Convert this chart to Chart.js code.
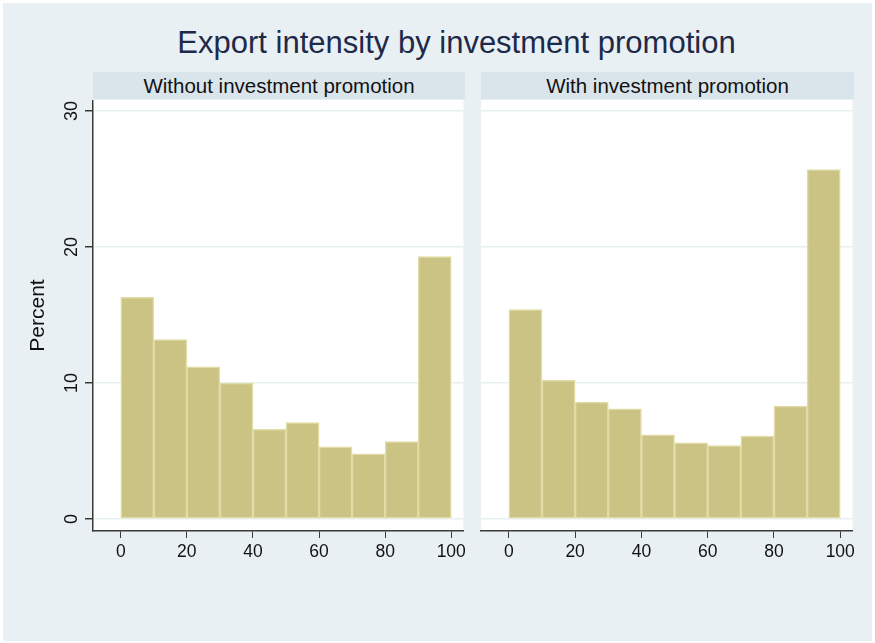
<!DOCTYPE html>
<html>
<head>
<meta charset="utf-8">
<title>Export intensity by investment promotion</title>
<script src="https://cdn.jsdelivr.net/npm/chart.js@4.4.1/dist/chart.umd.min.js"></script>
<style>
	html, body { margin: 0; padding: 0; background: #ffffff; }
	body { width: 875px; height: 643px; position: relative; overflow: hidden; font-family: "Liberation Sans", Arial, sans-serif; }
	#frame { position: absolute; left: 3px; top: 3px; width: 869px; height: 638px; background: #e9f0f3; }
	#title { position: absolute; left: 0; top: 23px; width: 913px; height: 40px; line-height: 40px; text-align: center; font-size: 31px; color: #1e2a4a; }
	.strip { position: absolute; top: 72px; height: 27px; line-height: 27px; text-align: center; font-size: 20.5px; color: #111111; background: #d9e5eb; }
	#strip-left { left: 93px; width: 372px; }
	#strip-right { left: 481px; width: 373px; }
	canvas { position: absolute; top: 100px; }
	#hist-left { left: 0; }
	#hist-right { left: 476px; }
</style>
</head>
<body>
<div id="frame"></div>
<div id="title">Export intensity by investment promotion</div>
<div class="strip" id="strip-left">Without investment promotion</div>
<div class="strip" id="strip-right">With investment promotion</div>
<canvas id="hist-left" width="470" height="480"></canvas>
<canvas id="hist-right" width="383" height="480"></canvas>
<script>
// bins of export intensity (lower edge, width 10)
const binStarts = [0, 10, 20, 30, 40, 50, 60, 70, 80, 90];
const binWidth = 10;
const withoutPromotion = [16.3, 13.2, 11.2, 10.0, 6.6, 7.1, 5.3, 4.8, 5.7, 19.3];
const withPromotion = [15.4, 10.2, 8.6, 8.1, 6.2, 5.6, 5.4, 6.1, 8.3, 25.7];
const xTicks = [0, 20, 40, 60, 80, 100];
const yTicks = [0, 10, 20, 30];
const panelTitles = ["Without investment promotion", "With investment promotion"];

const FONT = "'Liberation Sans', Arial, sans-serif";
const BAR_FILL = "#cbc383";
const BAR_EDGE = "#e1dca6";
const GRID = "#e9f0f2";
const AXIS = "#3a3a3a";

function toPoints(values) {
	return binStarts.map((start, i) => ({ x: start + binWidth / 2, y: values[i] }));
}

// white plot region behind the bars
const plotBackground = {
	id: "plotBackground",
	beforeDraw(chart) {
		const { ctx, chartArea } = chart;
		ctx.save();
		ctx.fillStyle = "#ffffff";
		ctx.fillRect(chartArea.left, chartArea.top, chartArea.right - chartArea.left, chartArea.bottom - chartArea.top);
		ctx.restore();
	},
};

// y tick labels read bottom-to-top
const verticalTickLabels = {
	id: "verticalTickLabels",
	afterDraw(chart, args, opts) {
		if (!opts.show) return;
		const scale = chart.scales.y;
		const ctx = chart.ctx;
		ctx.save();
		ctx.font = "18px " + FONT;
		ctx.fillStyle = "#111111";
		ctx.textAlign = "center";
		ctx.textBaseline = "middle";
		scale.ticks.forEach((tick) => {
			const y = scale.getPixelForValue(tick.value);
			ctx.save();
			ctx.translate(opts.x, y);
			ctx.rotate(-Math.PI / 2);
			ctx.fillText(String(tick.value), 0, 0);
			ctx.restore();
		});
		ctx.restore();
	},
};

function makePanel(canvasId, values, showAxis) {
	const canvas = document.getElementById(canvasId);
	return new Chart(canvas, {
		type: "bar",
		data: {
			datasets: [{
				label: panelTitles[showAxis ? 0 : 1],
				data: toPoints(values),
				backgroundColor: BAR_FILL,
				borderColor: BAR_EDGE,
				borderWidth: 1.5,
				borderSkipped: false,
				barPercentage: 1,
				categoryPercentage: 1,
			}],
		},
		plugins: [plotBackground, verticalTickLabels],
		options: {
			responsive: false,
			animation: false,
			events: [],
			layout: { padding: { left: 0, right: 5, top: 0, bottom: 0 } },
			plugins: {
				legend: { display: false },
				tooltip: { enabled: false },
				verticalTickLabels: { show: showAxis, x: 72 },
			},
			scales: {
				x: {
					type: "linear",
					min: -8.4,
					max: 103.7,
					offset: false,
					afterBuildTicks: (scale) => { scale.ticks = xTicks.map((v) => ({ value: v })); },
					afterFit: (scale) => { scale.height = 49; },
					border: { display: true, color: AXIS, width: 1.5 },
					grid: { drawOnChartArea: false, drawTicks: true, tickLength: 7, tickColor: AXIS, offset: false },
					ticks: { color: "#111111", padding: 4, font: { family: FONT, size: 17.5 }, maxRotation: 0 },
				},
				y: {
					type: "linear",
					min: -0.88,
					max: 30.81,
					afterBuildTicks: (scale) => { scale.ticks = yTicks.map((v) => ({ value: v })); },
					afterFit: (scale) => { scale.width = showAxis ? 93 : 5; },
					border: { display: showAxis, color: AXIS, width: 1.5 },
					grid: { color: GRID, lineWidth: 1.5, drawTicks: showAxis, tickLength: 8, tickColor: AXIS },
					ticks: { display: false },
					title: {
						display: showAxis,
						text: "Percent",
						color: "#111111",
						font: { family: FONT, size: 21 },
						padding: { top: 26, bottom: 0 },
					},
				},
			},
		},
	});
}

makePanel("hist-left", withoutPromotion, true);
makePanel("hist-right", withPromotion, false);
</script>
</body>
</html>
